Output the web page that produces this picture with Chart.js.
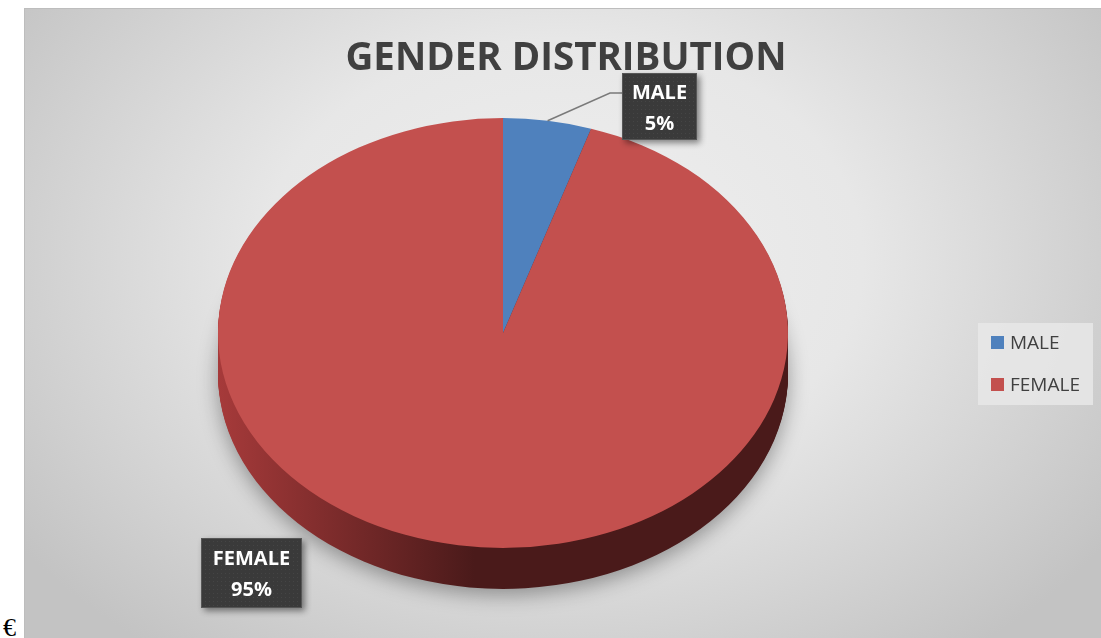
<!DOCTYPE html>
<html>
<head>
<meta charset="utf-8">
<script src="https://cdn.jsdelivr.net/npm/chart.js@4/dist/chart.umd.min.js"></script>
<style>
  html, body { margin: 0; padding: 0; background: #ffffff; width: 1101px; height: 638px; overflow: hidden; }
  #frame {
    position: absolute; left: 24px; top: 8px; width: 1077px; height: 630px;
    background: radial-gradient(ellipse 62% 78% at 50% 40%, #efefef 0%, #e7e7e7 45%, #c3c3c3 100%);
    box-shadow: inset 1px 1px 0 #bdbdbd;
  }
  #frame canvas { position: absolute; left: 0; top: 0; }
  #mark {
    position: absolute; left: 3px; top: 615px; font: 26px/26px "Liberation Serif", serif; color: #000;
  }
</style>
</head>
<body>
<div id="frame"><canvas id="pie"></canvas></div>
<div id="mark">€</div>
<script>
// Gender split of respondents
const categories = ['MALE', 'FEMALE'];
const counts = [5, 95];
const chartTitle = 'GENDER DISTRIBUTION';

// Colours: top face and the darker rim of each slice
const faceColors = ['#4f81bd', '#c3504e'];
const rimStops = [
  ['#2f5580', '#22405f'],
  ['#a63a3a', '#4a1a1a']
];

// Perspective of the tilted pie
const TILT = 0.754;   // vertical squash of the disc
const DEPTH = 41;     // rim thickness in px

// Placement of the callout boxes and legend (canvas px)
const calloutBoxes = [
  { x: 598, y: 65, w: 75, h: 67, leader: [[586, 85], [598, 85]] },
  { x: 177, y: 530, w: 101, h: 70, leader: null }
];
const legendBox = { x: 954, y: 315, w: 115, h: 82, rowGap: 42 };

const total = counts.reduce((a, b) => a + b, 0);
const pctText = v => Math.round(v / total * 100) + '%';

function dottedPattern(ctx) {
  const c = document.createElement('canvas');
  c.width = 4; c.height = 4;
  const g = c.getContext('2d');
  g.fillStyle = '#3a3a3a'; g.fillRect(0, 0, 4, 4);
  g.fillStyle = '#454545'; g.fillRect(1, 1, 1, 1);
  return ctx.createPattern(c, 'repeat');
}

// Squash the disc and draw its rim underneath the slices
const tiltedPie = {
  id: 'tiltedPie',
  beforeDatasetsDraw(chart) {
    const ctx = chart.ctx;
    const meta = chart.getDatasetMeta(0);
    const cy = meta.data[0].y;
    ctx.save();
    ctx.translate(0, cy);
    ctx.scale(1, TILT);
    ctx.translate(0, -cy);
    const fills = meta.data.map((arc, i) => {
      const g = ctx.createLinearGradient(arc.x - arc.outerRadius, 0, arc.x + arc.outerRadius, 0);
      g.addColorStop(0, rimStops[i][0]);
      g.addColorStop(0.45, rimStops[i][1]);
      g.addColorStop(1, rimStops[i][1]);
      return g;
    });
    for (let d = DEPTH; d >= 1; d--) {
      ctx.save();
      if (d === DEPTH) {
        ctx.shadowColor = 'rgba(0,0,0,0.35)';
        ctx.shadowBlur = 20;
        ctx.shadowOffsetY = 6;
      }
      meta.data.forEach((arc, i) => {
        const y = arc.y + d / TILT;
        ctx.beginPath();
        ctx.moveTo(arc.x, y);
        ctx.arc(arc.x, y, arc.outerRadius, arc.startAngle, arc.endAngle);
        ctx.closePath();
        ctx.fillStyle = fills[i];
        ctx.fill();
      });
      ctx.restore();
    }
  },
  afterDatasetsDraw(chart) {
    chart.ctx.restore();
  }
};

// Title, legend and value callouts
const decorations = {
  id: 'decorations',
  afterDraw(chart) {
    const ctx = chart.ctx;
    const meta = chart.getDatasetMeta(0);
    ctx.save();

    // title
    ctx.fillStyle = '#404040';
    ctx.font = 'bold 38.5px "Open Sans"';
    ctx.textAlign = 'center';
    ctx.textBaseline = 'alphabetic';
    ctx.fillText(chartTitle, 542, 62);

    // legend
    ctx.fillStyle = 'rgba(232,232,232,0.85)';
    ctx.fillRect(legendBox.x, legendBox.y, legendBox.w, legendBox.h);
    ctx.font = '19px "Open Sans"';
    ctx.textAlign = 'left';
    categories.forEach((name, i) => {
      const top = legendBox.y + 13 + i * legendBox.rowGap;
      ctx.fillStyle = faceColors[i];
      ctx.fillRect(legendBox.x + 13, top, 13, 13);
      ctx.fillStyle = '#404040';
      ctx.fillText(name, legendBox.x + 32, top + 13);
    });

    // callouts
    const pattern = dottedPattern(ctx);
    meta.data.forEach((arc, i) => {
      const box = calloutBoxes[i];
      if (box.leader) {
        const mid = (arc.startAngle + arc.endAngle) / 2;
        const ex = arc.x + arc.outerRadius * Math.cos(mid);
        const ey = arc.y + arc.outerRadius * Math.sin(mid) * TILT;
        ctx.strokeStyle = '#7a7a7a';
        ctx.lineWidth = 1.5;
        ctx.beginPath();
        ctx.moveTo(ex, ey);
        box.leader.forEach(p => ctx.lineTo(p[0], p[1]));
        ctx.stroke();
      }
      ctx.save();
      ctx.shadowColor = 'rgba(0,0,0,0.45)';
      ctx.shadowBlur = 6;
      ctx.shadowOffsetX = 3;
      ctx.shadowOffsetY = 3;
      ctx.fillStyle = pattern;
      ctx.fillRect(box.x, box.y, box.w, box.h);
      ctx.restore();
      ctx.strokeStyle = 'rgba(90,90,90,0.9)';
      ctx.lineWidth = 1;
      ctx.strokeRect(box.x + 0.5, box.y + 0.5, box.w - 1, box.h - 1);

      const cx = box.x + box.w / 2;
      const cy = box.y + box.h / 2;
      ctx.fillStyle = '#ffffff';
      ctx.font = 'bold 20px "Open Sans"';
      ctx.textAlign = 'center';
      ctx.fillText(categories[i], cx, cy - 8);
      ctx.fillText(pctText(counts[i]), cx, cy + 23);
    });
    ctx.restore();
  }
};

new Chart(document.getElementById('pie'), {
  type: 'pie',
  data: {
    labels: categories,
    datasets: [{
      data: counts,
      backgroundColor: faceColors,
      borderWidth: 0,
      radius: 285,
      clip: false
    }]
  },
  options: {
    responsive: true,
    maintainAspectRatio: false,
    animation: false,
    events: [],
    layout: { padding: { top: 70, bottom: 50, left: 0, right: 119 } },
    plugins: {
      legend: { display: false },
      title: { display: false },
      tooltip: { enabled: false }
    }
  },
  plugins: [tiltedPie, decorations]
});
</script>
</body>
</html>
